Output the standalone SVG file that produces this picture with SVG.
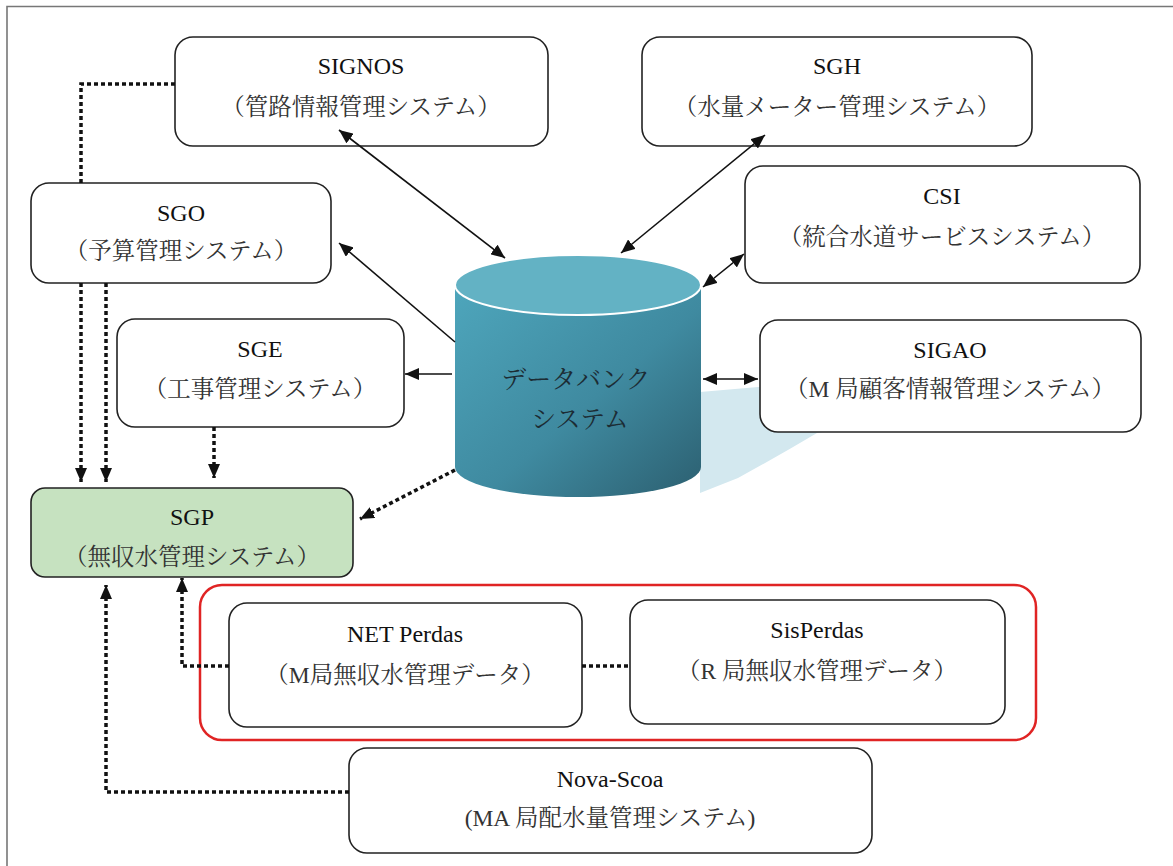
<svg xmlns="http://www.w3.org/2000/svg" width="1173" height="866" viewBox="0 0 1173 866">
<defs>
<style>
.box{fill:#fff;stroke:#222;stroke-width:1.6}
.sgp{fill:#c6e2c0;stroke:#222;stroke-width:1.6}
.t{font-family:"Liberation Serif","Noto Serif CJK JP","Noto Sans CJK JP",serif;font-size:24px;fill:#111;text-anchor:middle}
.s{font-family:"Liberation Serif","Noto Serif CJK JP","Noto Sans CJK JP",serif;font-size:23.5px;fill:#333;text-anchor:middle}
.db{font-family:"Liberation Serif","Noto Serif CJK JP","Noto Sans CJK JP",serif;font-size:25px;fill:#1c2c34;text-anchor:middle}
.solid{fill:none;stroke:#111;stroke-width:1.6}
.dot{fill:none;stroke:#111;stroke-width:3.5;stroke-dasharray:4 3}
</style>
<marker id="ah" markerUnits="userSpaceOnUse" viewBox="0 0 14 12" refX="14" refY="6" markerWidth="14" markerHeight="12" orient="auto-start-reverse">
<path d="M0,0 L14,6 L0,12 z" fill="#111"/>
</marker>
<linearGradient id="body" x1="0" y1="0" x2="1" y2="1">
<stop offset="0" stop-color="#4ea6bc"/>
<stop offset="0.55" stop-color="#3f8aa0"/>
<stop offset="1" stop-color="#2c5f70"/>
</linearGradient>
</defs>
<rect x="0" y="0" width="1173" height="866" fill="#fff"/>
<g id="frame">
<path d="M7,866 V6.5 H1173" fill="none" stroke="#777" stroke-width="1.6"/>
</g>

<g id="shadow">
<path d="M700,392 L900,375 L900,420 L817,433 Q780,455 738,478 L700,493 Z" fill="#d3e8ef"/>
</g>

<g id="database">
<path d="M455,285 V467 A123,30 0 0 0 701,467 V285 Z" fill="url(#body)"/>
<ellipse cx="578" cy="285" rx="123" ry="30" fill="#63b2c4" stroke="#fff" stroke-width="2"/>
<text class="db" x="576" y="388">データバンク</text>
<text class="db" x="580" y="428">システム</text>
</g>

<g id="signos">
<rect class="box" x="175" y="37" width="373" height="109" rx="18"/>
<text class="t" x="361" y="74">SIGNOS</text>
<text class="s" x="361" y="115">（管路情報管理システム）</text>
</g>
<g id="sgh">
<rect class="box" x="642" y="37" width="390" height="109" rx="18"/>
<text class="t" x="837" y="74">SGH</text>
<text class="s" x="837" y="115">（水量メーター管理システム）</text>
</g>
<g id="csi">
<rect class="box" x="745" y="166" width="395" height="117" rx="18"/>
<text class="t" x="942" y="204">CSI</text>
<text class="s" x="942" y="245">（統合水道サービスシステム）</text>
</g>
<g id="sgo">
<rect class="box" x="31" y="183" width="300" height="100" rx="18"/>
<text class="t" x="181" y="221">SGO</text>
<text class="s" x="181" y="259">（予算管理システム）</text>
</g>
<g id="sge">
<rect class="box" x="117" y="319" width="287" height="108" rx="18"/>
<text class="t" x="260" y="357">SGE</text>
<text class="s" x="260" y="397">（工事管理システム）</text>
</g>
<g id="sigao">
<rect class="box" x="760" y="320" width="381" height="112" rx="18"/>
<text class="t" x="950" y="358">SIGAO</text>
<text class="s" x="950" y="397">（M 局顧客情報管理システム）</text>
</g>
<g id="sgp">
<rect class="sgp" x="31" y="488" width="322" height="89" rx="14"/>
<text class="t" x="192" y="525">SGP</text>
<text class="s" x="192" y="565">（無収水管理システム）</text>
</g>
<g id="perdas-group">
<rect x="200" y="585" width="836" height="155" rx="22" fill="none" stroke="#e02424" stroke-width="2.5"/>
</g>
<g id="netperdas">
<rect class="box" x="229" y="603" width="353" height="124" rx="18"/>
<text class="t" x="405" y="642">NET Perdas</text>
<text class="s" x="405" y="683">（M局無収水管理データ）</text>
</g>
<g id="sisperdas">
<rect class="box" x="630" y="600" width="375" height="124" rx="18"/>
<text class="t" x="817" y="638">SisPerdas</text>
<text class="s" x="817" y="679">（R 局無収水管理データ）</text>
</g>
<g id="novascoa">
<rect class="box" x="349" y="748" width="523" height="105" rx="18"/>
<text class="t" x="610" y="787">Nova-Scoa</text>
<text class="s" x="610" y="826">(MA 局配水量管理システム)</text>
</g>

<g id="connectors">
<line class="solid" x1="339" y1="130" x2="505" y2="258" marker-start="url(#ah)" marker-end="url(#ah)"/>
<line class="solid" x1="765" y1="135" x2="621" y2="253" marker-start="url(#ah)" marker-end="url(#ah)"/>
<line class="solid" x1="744" y1="254" x2="703" y2="287" marker-start="url(#ah)" marker-end="url(#ah)"/>
<line class="solid" x1="455" y1="342" x2="339" y2="243" marker-end="url(#ah)"/>
<line class="solid" x1="452" y1="374" x2="405" y2="374" marker-end="url(#ah)"/>
<line class="solid" x1="703" y1="379" x2="758" y2="379" marker-start="url(#ah)" marker-end="url(#ah)"/>
<path class="dot" d="M455,470 L360,519" marker-end="url(#ah)"/>
<path class="dot" d="M175,84 H81 V183"/>
<path class="dot" d="M81,283 V482" marker-end="url(#ah)"/>
<path class="dot" d="M106,283 V482" marker-end="url(#ah)"/>
<path class="dot" d="M214,427 V478" marker-end="url(#ah)"/>
<path class="dot" d="M229,666 H182 V578" marker-end="url(#ah)"/>
<path class="dot" d="M349,792 H106 V585" marker-end="url(#ah)"/>
<path class="dot" d="M582,666 H630"/>
</g>
</svg>
